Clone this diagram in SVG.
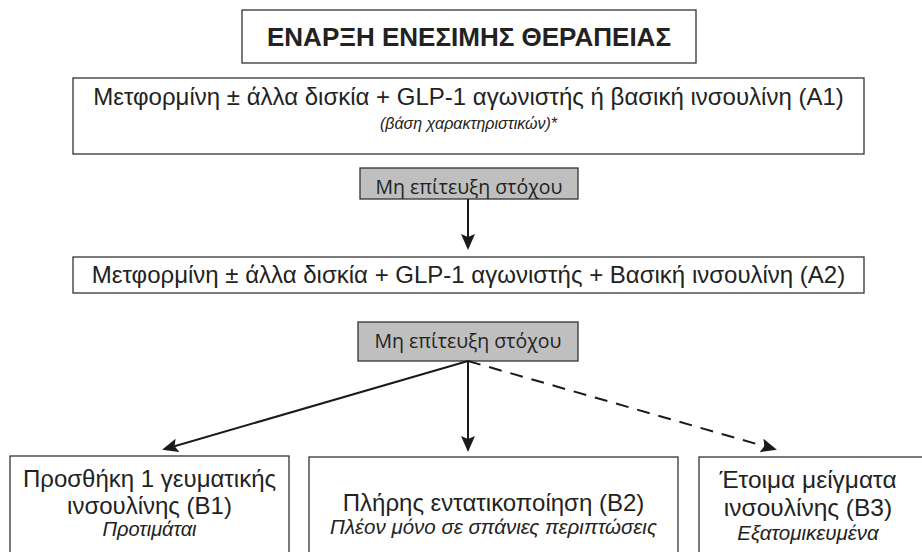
<svg xmlns="http://www.w3.org/2000/svg" width="922" height="552" viewBox="0 0 922 552">
<defs>
<marker id="ah" markerUnits="userSpaceOnUse" markerWidth="17" markerHeight="15" refX="13" refY="7" orient="auto">
<path d="M0,0 L16,7 L0,14 L3,7 z" fill="#1a1a1a"/>
</marker>
<style>
.box{fill:#fff;stroke:#333;stroke-width:1.3}
.gbox{fill:#bfbfbf;stroke:#333;stroke-width:1.3}
.t{font-family:"Liberation Sans",Arial,sans-serif;fill:#222;text-anchor:middle}
.g{font-family:"Open Sans","Liberation Sans",sans-serif;fill:#222;text-anchor:middle;font-size:19.5px}
.c{stroke:#1a1a1a;stroke-width:2;fill:none}
</style>
</defs>
<rect width="922" height="552" fill="#fff"/>
<g id="title">
<rect class="box" x="242" y="10" width="454" height="53"/>
<text class="t" x="469" y="46" font-size="26" font-weight="bold">ΕΝΑΡΞΗ ΕΝΕΣΙΜΗΣ ΘΕΡΑΠΕΙΑΣ</text>
</g>
<g id="a1">
<rect class="box" x="73" y="78" width="791" height="76"/>
<text class="t" x="468.5" y="105" font-size="24">Μετφορμίνη ± άλλα δισκία + GLP-1 αγωνιστής ή βασική ινσουλίνη (A1)</text>
<text class="t" x="468.5" y="129" font-size="16" font-style="italic">(βάση χαρακτηριστικών)*</text>
</g>
<g id="fail1">
<rect class="gbox" x="360" y="168" width="218" height="31"/>
<text class="g" x="469" y="194">Μη επίτευξη στόχου</text>
</g>
<g id="a2">
<rect class="box" x="73" y="257" width="791" height="36"/>
<text class="t" x="468.5" y="283" font-size="24">Μετφορμίνη ± άλλα δισκία + GLP-1 αγωνιστής + Βασική ινσουλίνη (A2)</text>
</g>
<g id="fail2">
<rect class="gbox" x="358" y="322" width="220" height="39"/>
<text class="g" x="468" y="348">Μη επίτευξη στόχου</text>
</g>
<g id="b1">
<rect class="box" x="10" y="456" width="279" height="110"/>
<text class="t" x="149.5" y="487" font-size="24">Προσθήκη 1 γευματικής</text>
<text class="t" x="149.5" y="514" font-size="24">ινσουλίνης (B1)</text>
<text class="t" x="149.5" y="536" font-size="20" font-style="italic">Προτιμάται</text>
</g>
<g id="b2">
<rect class="box" x="309" y="457" width="369" height="110"/>
<text class="t" x="493.5" y="511" font-size="24">Πλήρης εντατικοποίηση (B2)</text>
<text class="t" x="493.5" y="534" font-size="20.5" font-style="italic">Πλέον μόνο σε σπάνιες περιπτώσεις</text>
</g>
<g id="b3">
<rect class="box" x="699" y="457" width="240" height="110"/>
<text class="t" x="808" y="488" font-size="24.5">Έτοιμα μείγματα</text>
<text class="t" x="808" y="516" font-size="24.5">ινσουλίνης (B3)</text>
<text class="t" x="808" y="540" font-size="20.5" font-style="italic">Εξατομικευμένα</text>
</g>
<g id="connectors">
<line class="c" x1="468" y1="199" x2="468" y2="247" marker-end="url(#ah)"/>
<line class="c" x1="468" y1="361" x2="468" y2="449" marker-end="url(#ah)"/>
<line class="c" x1="468" y1="361" x2="165" y2="449" marker-end="url(#ah)"/>
<line class="c" x1="468" y1="361" x2="774" y2="449" stroke-dasharray="13,9" marker-end="url(#ah)"/>
</g>
</svg>
